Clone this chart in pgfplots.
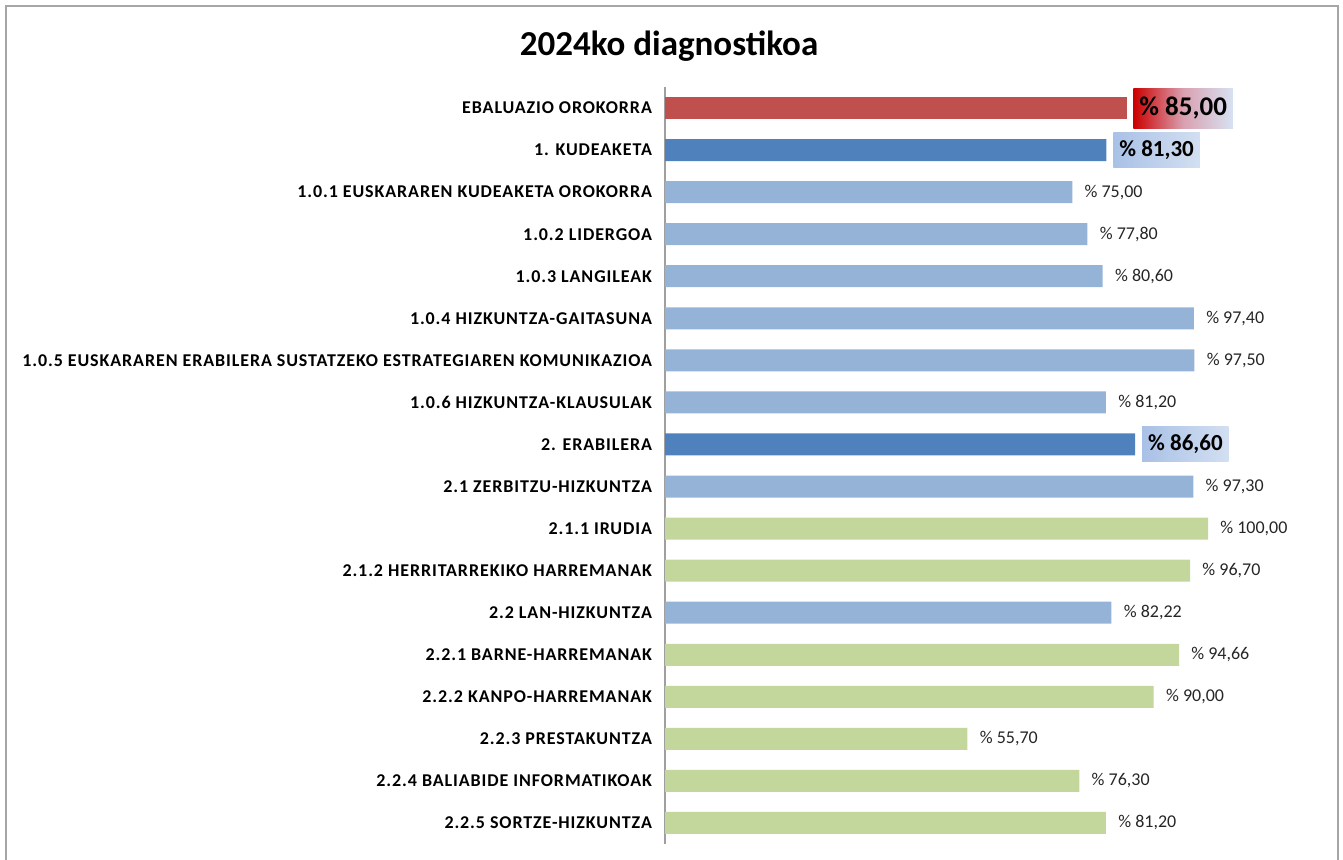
\documentclass[border=0pt]{standalone}
\usepackage{fontspec}
\setmainfont{Carlito}
\newfontfamily\lblfont[LetterSpace=5]{Carlito}
\usepackage{pgfplots}
\pgfplotsset{compat=1.18}
\definecolor{cRed}{HTML}{C0504D}
\definecolor{cDark}{HTML}{4F81BD}
\definecolor{cLight}{HTML}{95B3D7}
\definecolor{cGreen}{HTML}{C3D69B}
\definecolor{cBox}{HTML}{C6D6EE}
\definecolor{cBoxL}{HTML}{A9C1E6}
\definecolor{cBoxR}{HTML}{D3DFF1}
\definecolor{cMid}{HTML}{D9A0B0}
\begin{document}
\begin{tikzpicture}
\useasboundingbox (0,0) rectangle (671.5pt,430pt);
\draw[gray!70, line width=1pt] (3pt,0pt) -- (3pt,427pt) -- (669pt,427pt) -- (669pt,0pt);
\node[font=\bfseries\fontsize{17.5}{19}\selectfont, text=black] at (334.5pt,407pt) {2024ko diagnostikoa};
\begin{axis}[
  at={(332.5pt,8pt)}, anchor=south west,
  scale only axis, width=271.5pt, height=378.5pt,
  xmin=0, xmax=100, ymin=-0.5, ymax=17.5, y dir=reverse,
  axis y line*=left, axis x line=none,
  y axis line style={draw=gray!75, line width=0.6pt, -},
  xbar, bar width=11pt, bar shift=0pt,
  ytick={0,...,17}, major tick length=0pt,
  yticklabels={EBALUAZIO OROKORRA, 1. KUDEAKETA, 1.0.1 EUSKARAREN KUDEAKETA OROKORRA, 1.0.2 LIDERGOA, 1.0.3 LANGILEAK, 1.0.4 HIZKUNTZA-GAITASUNA, 1.0.5 EUSKARAREN ERABILERA SUSTATZEKO ESTRATEGIAREN KOMUNIKAZIOA, 1.0.6 HIZKUNTZA-KLAUSULAK, 2. ERABILERA, 2.1 ZERBITZU-HIZKUNTZA, 2.1.1 IRUDIA, 2.1.2 HERRITARREKIKO HARREMANAK, 2.2 LAN-HIZKUNTZA, 2.2.1 BARNE-HARREMANAK, 2.2.2 KANPO-HARREMANAK, 2.2.3 PRESTAKUNTZA, 2.2.4 BALIABIDE INFORMATIKOAK, 2.2.5 SORTZE-HIZKUNTZA},
  yticklabel style={font=\lblfont\bfseries\fontsize{9}{10}\selectfont, text=black, xshift=-3pt},
  clip=false,
  point meta=x,
  /pgf/number format/assume math mode=true,
  nodes near coords={\% \pgfmathprintnumber[fixed,fixed zerofill,precision=2,use comma]{\pgfplotspointmeta}},
  nodes near coords style={anchor=west, font=\fontsize{9}{10}\selectfont, text=black!85, inner sep=1pt, xshift=5pt},
]
\addplot[draw=none, fill=cRed, nodes near coords style={font=\bfseries\fontsize{13.5}{14}\selectfont, text=black, left color=red!80!black, right color=cBox!70!white, middle color=cMid, shading angle=90, inner xsep=3pt, minimum height=20pt, xshift=-1.75pt}]
  coordinates {(85,0)};
\addplot[draw=none, fill=cDark, nodes near coords style={font=\bfseries\fontsize{11.5}{12}\selectfont, text=black, left color=cBoxL, right color=cBoxR, inner xsep=3pt, minimum height=17.5pt, xshift=-1.75pt}]
  coordinates {(81.3,1) (86.6,8)};
\addplot[draw=none, fill=cLight]
  coordinates {(75,2) (77.8,3) (80.6,4) (97.4,5) (97.5,6) (81.2,7) (97.3,9) (82.22,12)};
\addplot[draw=none, fill=cGreen]
  coordinates {(100,10) (96.7,11) (94.66,13) (90,14) (55.7,15) (76.3,16) (81.2,17)};
\end{axis}
\end{tikzpicture}
\end{document}
